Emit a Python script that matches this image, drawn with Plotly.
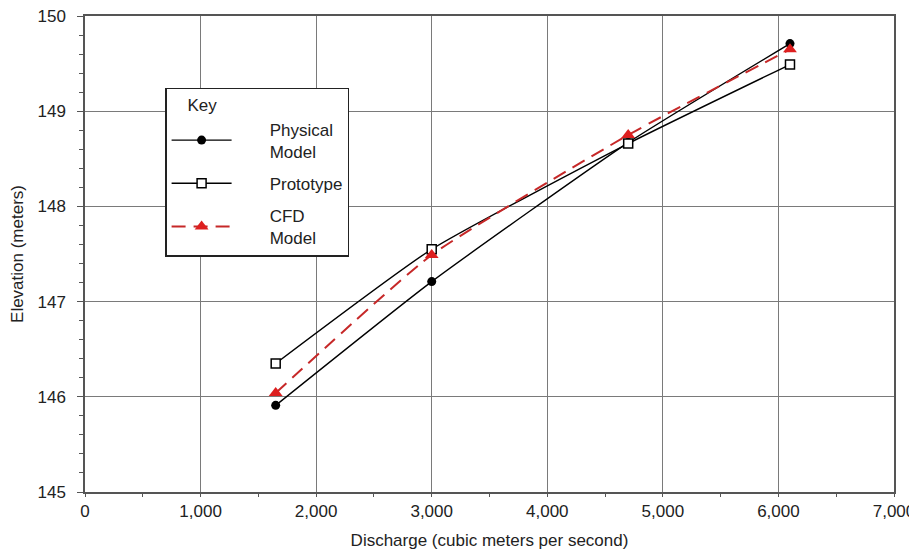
import plotly.graph_objects as go

discharge_phys = [1650, 3000, 4700, 6100]
elev_phys = [145.91, 147.21, 148.67, 149.71]

discharge_proto = [1650, 3000, 4700, 6100]
elev_proto = [146.35, 147.55, 148.66, 149.49]

discharge_cfd = [1650, 3000, 4700, 6100]
elev_cfd = [146.04, 147.49, 148.75, 149.65]

x_ticks = [0, 1000, 2000, 3000, 4000, 5000, 6000, 7000]
x_ticklabels = ["0", "1,000", "2,000", "3,000", "4,000", "5,000", "6,000", "7,000"]
y_ticks = [145, 146, 147, 148, 149, 150]

font_family = "Liberation Sans, Arial, sans-serif"
NB = "\u00a0" * 7

fig = go.Figure()
fig.add_trace(go.Scatter(
    x=discharge_phys, y=elev_phys, name=NB + "Physical<br>" + NB + "Model",
    legendgroup="a",
    mode="lines+markers", line=dict(color="black", width=1.4, shape="spline", smoothing=0.5),
    marker=dict(symbol="circle", size=9, color="black"),
))
fig.add_trace(go.Scatter(
    x=discharge_proto, y=elev_proto, name=NB + "Prototype",
    legendgroup="b",
    mode="lines+markers", line=dict(color="black", width=1.4, shape="spline", smoothing=0.5),
    marker=dict(symbol="square", size=9, color="white", line=dict(width=1.5, color="black")),
))
fig.add_trace(go.Scatter(
    x=discharge_cfd, y=elev_cfd, name=NB + "CFD<br>" + NB + "Model",
    legendgroup="c",
    mode="lines+markers", line=dict(color="#c62828", width=2, dash="14px,8px", shape="spline", smoothing=0.5),
    marker=dict(symbol="triangle-up", size=12, color="#dd1f1f"),
))

fig.update_layout(
    width=909, height=554,
    margin=dict(l=85, r=15, t=16, b=62),
    paper_bgcolor="white", plot_bgcolor="white",
    font=dict(family=font_family, size=16, color="#222"),
    showlegend=True,
    legend=dict(
        x=0.099, y=0.849, xanchor="left", yanchor="top",
        bordercolor="#222", borderwidth=1.5, bgcolor="white",
        title=dict(text="\u00a0\u00a0\u00a0\u00a0Key", font=dict(size=17)),
        font=dict(size=17, color="#222"),
        tracegroupgap=7,
        itemwidth=60,
    ),
    xaxis=dict(
        range=[0, 7000], tickvals=x_ticks, ticktext=x_ticklabels,
        automargin=False, ticklabeloverflow="allow",
        showgrid=True, gridcolor="#7a7a7a", gridwidth=1,
        showline=True, linecolor="#555", linewidth=1.5, mirror=True,
        ticks="outside", ticklen=3, tickcolor="#555",
        minor=dict(dtick=500, ticks="outside", ticklen=3, tickcolor="#555", showgrid=False),
        zeroline=False,
        title=dict(text="Discharge (cubic meters per second)", font=dict(size=17), standoff=14),
        tickfont=dict(size=17),
    ),
    yaxis=dict(
        range=[145, 150], tickvals=y_ticks,
        automargin=False, ticklabeloverflow="allow",
        showgrid=True, gridcolor="#7a7a7a", gridwidth=1,
        showline=True, linecolor="#555", linewidth=1.5, mirror=True,
        ticks="outside", ticklen=6, tickcolor="#555",
        ticklabelstandoff=8,
        minor=dict(dtick=0.2, ticks="outside", ticklen=4, tickcolor="#555", showgrid=False),
        zeroline=False,
        title=dict(text="Elevation (meters)", font=dict(size=17), standoff=10),
        tickfont=dict(size=17),
    ),
)

fig.write_html(
    "out.html",
    config={"displayModeBar": False},
    post_script="document.body.style.margin='0';document.body.style.overflow='hidden';",
)
